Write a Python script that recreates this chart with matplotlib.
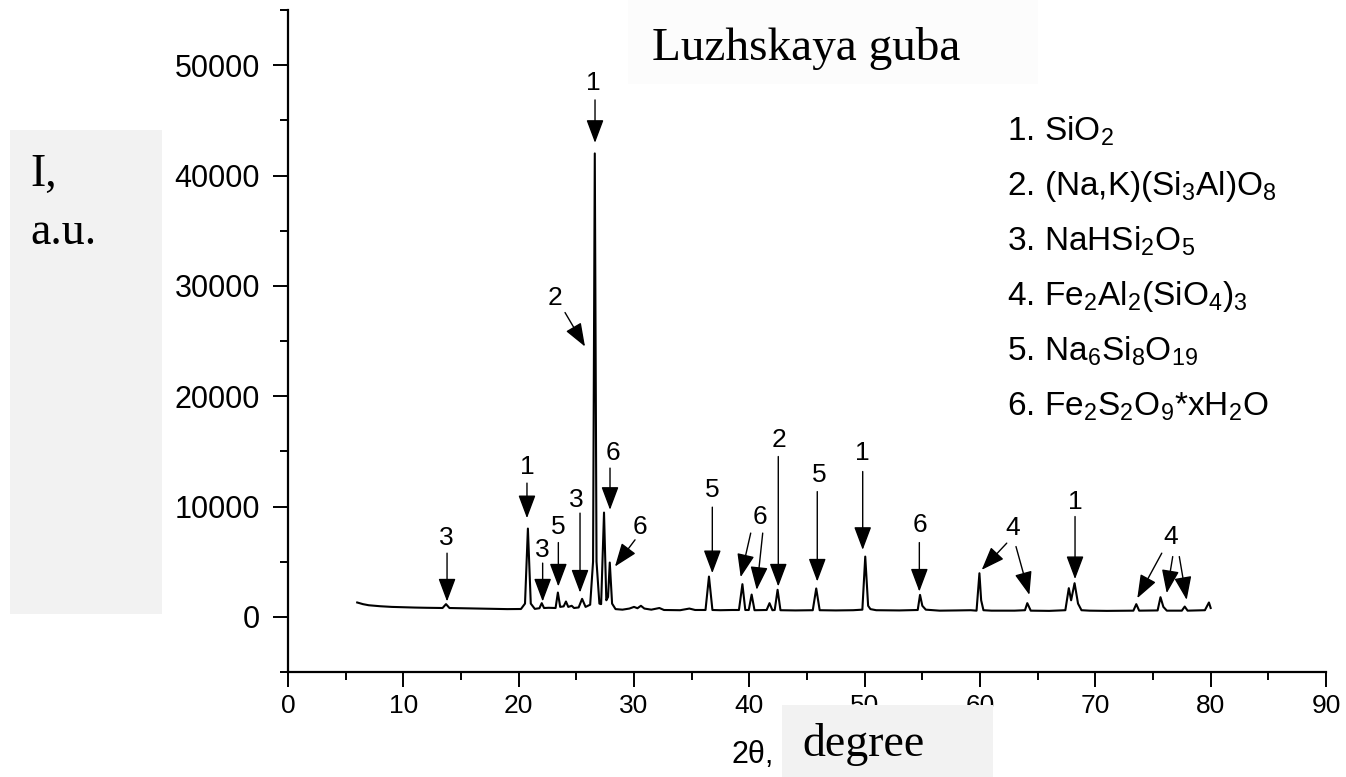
import matplotlib
matplotlib.use('Agg')
import matplotlib.pyplot as plt
import matplotlib.patches as patches
from matplotlib.ticker import MultipleLocator

plt.rcParams['font.family'] = ['Liberation Sans', 'DejaVu Sans']
plt.rcParams['mathtext.fontset'] = 'custom'
plt.rcParams['mathtext.rm'] = 'Liberation Sans'

# XRD pattern, Luzhskaya guba sample: 2theta (deg) vs intensity (a.u.)
two_theta = [
    6.0, 6.5, 7.0, 8.0, 9.0, 10.0, 11.0, 12.0, 13.4, 13.7, 14.0, 15.0, 16.0, 17.0,
    18.0, 19.0, 20.2, 20.55, 20.8, 21.05, 21.4, 21.8, 22.0, 22.2, 22.6, 23.2, 23.4,
    23.6, 23.9, 24.1, 24.3, 24.6, 24.8, 25.2, 25.5, 25.8, 26.2, 26.45, 26.6, 26.75,
    27.0, 27.15, 27.4, 27.6, 27.75, 27.9, 28.1, 28.4, 29.0, 29.6, 30.0, 30.3, 30.6,
    30.9, 31.5, 32.2, 32.6, 34.0, 34.8, 35.3, 36.2, 36.5, 36.8, 37.5, 38.5, 39.1,
    39.4, 39.65, 39.95, 40.2, 40.45, 41.5, 41.75, 42.0, 42.2, 42.45, 42.7, 44.0,
    45.5, 45.8, 46.1, 47.5, 49.0, 49.8, 50.05, 50.3, 50.5, 51.0, 53.0, 54.6, 54.8,
    55.0, 55.3, 56.5, 58.0, 59.2, 59.7, 59.95, 60.1, 60.3, 61.0, 63.0, 63.9, 64.1,
    64.4, 66.0, 67.4, 67.7, 67.9, 68.2, 68.5, 68.8, 69.5, 71.0, 73.3, 73.55, 73.8,
    75.4, 75.65, 75.9, 76.2, 77.5, 77.75, 78.0, 79.5, 79.85, 80.0]
intensity = [
    1300, 1150, 1050, 960, 900, 870, 840, 820, 800, 1150, 800, 780, 760, 740,
    720, 700, 710, 1200, 8000, 1200, 720, 780, 1240, 800, 820, 800, 2200,
    900, 950, 1390, 900, 1000, 800, 850, 1630, 900, 1100, 5000, 42000, 5000,
    1200, 1150, 9450, 1500, 1800, 4920, 1200, 700, 650, 750, 900, 780, 1000,
    750, 650, 800, 620, 600, 750, 620, 620, 3650, 620, 600, 620, 620,
    2960, 620, 620, 2020, 600, 620, 1240, 600, 620, 2450, 600, 580,
    600, 2570, 600, 580, 600, 650, 5460, 1000, 700, 600, 580, 620, 1990,
    1000, 650, 560, 580, 600, 560, 3950, 1500, 600, 560, 560, 600, 1240,
    560, 540, 600, 2600, 1500, 3050, 1200, 600, 560, 540, 560, 1150, 560,
    580, 1780, 900, 560, 560, 930, 560, 600, 1300, 800]

# phase labels: number, text position, list of (arrow tail, arrow tip)
phase_marks = [
    ('3', (13.76, 7130), [((13.79, 5770), (13.79, 1390))]),
    ('1', (20.72, 13620), [((20.72, 12120), (20.72, 8940))]),
    ('3', (22.08, 6070), [((22.08, 4870), (22.08, 1390))]),
    ('5', (23.44, 8180), [((23.44, 6730), (23.44, 2750))]),
    ('3', (25.03, 10600), [((25.32, 9400), (25.32, 2200))]),
    ('1', (26.47, 48390), [((26.62, 46850), (26.62, 42960))]),
    ('2', (23.15, 28880), [((24.02, 27580), (25.75, 24500))]),
    ('6', (28.21, 14830), [((27.92, 13480), (27.92, 9700))]),
    ('6', (30.52, 8180), [((30.09, 6980), (28.35, 4560))]),
    ('5', (36.79, 11510), [((36.79, 9940), (36.79, 3960))]),
    ('6', (40.88, 9090), [((40.12, 7590), (39.25, 3600)),
                          ((41.16, 7590), (40.64, 2450))]),
    ('2', (42.60, 16040), [((42.51, 14530), (42.51, 2750))]),
    ('5', (46.07, 12870), [((45.89, 11350), (45.89, 3200))]),
    ('1', (49.83, 14830), [((49.83, 13170), (49.83, 6070))]),
    ('6', (54.80, 8340), [((54.74, 6730), (54.74, 2290))]),
    ('4', (62.84, 8040), [((62.32, 6680), (60.15, 4260)),
                          ((63.12, 6370), (64.28, 1990))]),
    ('1', (68.24, 10450), [((68.24, 9090), (68.24, 3420))]),
    ('4', (76.54, 7280), [((75.76, 5770), (73.64, 1690)),
                          ((76.71, 5460), (76.19, 2150)),
                          ((77.28, 5460), (77.92, 1540))]),
]

phases = [
    r'1. SiO$_\mathregular{2}$',
    r'2. (Na,K)(Si$_\mathregular{3}$Al)O$_\mathregular{8}$',
    r'3. NaHSi$_\mathregular{2}$O$_\mathregular{5}$',
    r'4. Fe$_\mathregular{2}$Al$_\mathregular{2}$(SiO$_\mathregular{4}$)$_\mathregular{3}$',
    r'5. Na$_\mathregular{6}$Si$_\mathregular{8}$O$_\mathregular{19}$',
    r'6. Fe$_\mathregular{2}$S$_\mathregular{2}$O$_\mathregular{9}$*xH$_\mathregular{2}$O',
]

W, H = 1346, 777
fig = plt.figure(figsize=(W / 100, H / 100), dpi=100)
ax = fig.add_axes([288 / W, 1 - 672 / H, (1326 - 288) / W, (672 - 10) / H])

ax.plot(two_theta, intensity, color='black', lw=1.5)

ax.set_xlim(0, 90)
ax.set_ylim(-5000, 55000)
ax.xaxis.set_major_locator(MultipleLocator(10))
ax.xaxis.set_minor_locator(MultipleLocator(5))
ax.set_yticks(range(0, 50001, 10000))
ax.yaxis.set_minor_locator(MultipleLocator(5000))
for side in ['top', 'right']:
    ax.spines[side].set_visible(False)
for side in ['left', 'bottom']:
    ax.spines[side].set_linewidth(1.6)
ax.tick_params(which='major', direction='out', length=11, width=1.4)
ax.tick_params(which='minor', direction='out', length=6, width=1.4)
ax.tick_params(axis='y', which='major', labelsize=22, pad=9)
ax.tick_params(axis='x', which='major', labelsize=19, pad=5)

arrow = dict(arrowstyle='-|>,head_length=0.8,head_width=0.3', mutation_scale=18,
             color='black', lw=1.0, shrinkA=0, shrinkB=0)
for num, txt_pos, arrows in phase_marks:
    ax.text(txt_pos[0], txt_pos[1], num, fontsize=19, ha='center', va='center')
    for tail, tip in arrows:
        ax.annotate('', xy=tip, xytext=tail, arrowprops=arrow)

# phase list on the right
for i, p in enumerate(phases):
    fig.text(1007 / W, 1 - (140 + 55 * i) / H, p, fontsize=24, va='baseline')

# x axis title, the unit sits on the grey box below
fig.text(732 / W, 1 - 755 / H, '2θ,', fontsize=22, va='center')

# grey boxes with serif captions
box_kw = dict(transform=fig.transFigure, facecolor='#f2f2f2', edgecolor='none', zorder=5)
fig.add_artist(patches.Rectangle((10 / W, 1 - 614 / H), 152 / W, 484 / H, **box_kw))
fig.add_artist(patches.Rectangle((782 / W, 0), 211 / W, 72 / H, **box_kw))
fig.add_artist(patches.Rectangle((628 / W, 1 - 84 / H), 410 / W, 84 / H,
                                 transform=fig.transFigure, facecolor='#fcfcfc',
                                 edgecolor='none', zorder=5))

serif = dict(family='Liberation Serif', fontsize=33, zorder=6)
fig.text(30 / W, 1 - 175 / H, 'I,', va='center', **serif)
fig.text(30 / W, 1 - 233 / H, 'a.u.', va='center', **serif)
fig.text(863 / W, 1 - 745 / H, 'degree', ha='center', va='center', **serif)
fig.text(806 / W, 1 - 48 / H, 'Luzhskaya guba', ha='center', va='center',
         family='Liberation Serif', fontsize=34, zorder=6)

fig.savefig('out.png', dpi=100)
